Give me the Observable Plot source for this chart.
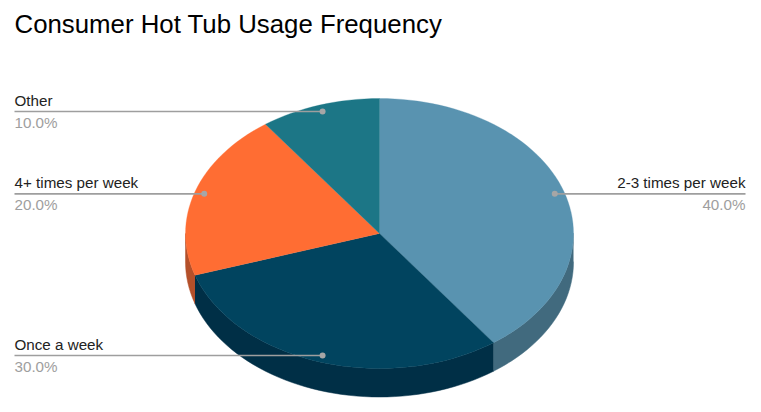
<!DOCTYPE html>
<html>
<head>
<meta charset="utf-8">
<script src="https://cdn.jsdelivr.net/npm/d3@7"></script>
<script src="https://cdn.jsdelivr.net/npm/@observablehq/plot@0.6"></script>
<style>
  html, body { margin: 0; padding: 0; background: #fff; }
  #chart { width: 761px; height: 412px; }
</style>
</head>
<body>
<div id="chart"></div>
<script>
// ---- Data ----
const chartTitle = "Consumer Hot Tub Usage Frequency";
const categories = ["2-3 times per week", "Once a week", "4+ times per week", "Other"];
const values = [40, 30, 20, 10];
const percentLabels = ["40.0%", "30.0%", "20.0%", "10.0%"];
const topColors = ["#5993B0", "#01445F", "#FF6D33", "#1C7686"];
const sideColors = ["#416A7E", "#002F46", "#B4502A", "#14545F"];
const labelSides = ["right", "left", "left", "left"];

// ---- Geometry (pixels) ----
const W = 761, H = 412;
const cx = 379, cy = 233, rx = 194, ry = 135, depth = 28.5;
const dotR = 0.95;

const total = d3.sum(values);
const pt = (a, r = 1, dy = 0) => ({x: cx + rx * r * Math.sin(a), y: cy - ry * r * Math.cos(a) + dy});

let acc = 0;
const slices = values.map((v, i) => {
  const a0 = acc / total * 2 * Math.PI;
  acc += v;
  const a1 = acc / total * 2 * Math.PI;
  return {i, a0, a1, mid: (a0 + a1) / 2};
});

const N = 160;
const arcPts = (a0, a1, dy) => {
  const n = Math.max(2, Math.ceil(N * (a1 - a0) / (2 * Math.PI)));
  return d3.range(n + 1).map(k => pt(a0 + (a1 - a0) * k / n, 1, dy));
};

// top faces
const topFaces = [];
slices.forEach(s => {
  const pts = [{x: cx, y: cy}, ...arcPts(s.a0, s.a1, 0), {x: cx, y: cy}];
  pts.forEach(p => topFaces.push({...p, key: "t" + s.i, color: topColors[s.i]}));
});

// visible side walls (front half, angles 90°..270°)
const sideFaces = [];
slices.forEach(s => {
  const b0 = Math.max(s.a0, Math.PI / 2), b1 = Math.min(s.a1, 3 * Math.PI / 2);
  if (b1 <= b0) return;
  const pts = [...arcPts(b0, b1, 0), ...arcPts(b0, b1, depth).reverse()];
  pts.forEach(p => sideFaces.push({...p, key: "s" + s.i, color: sideColors[s.i]}));
});

// labels and leader lines
const labelX = {left: 14, right: 745};
const labels = slices.map(s => {
  const d = pt(s.mid, dotR);
  const side = labelSides[s.i];
  return {
    name: categories[s.i], pct: percentLabels[s.i], side,
    dx: d.x, dy: d.y, lx: labelX[side]
  };
});
const leftLabels = labels.filter(d => d.side === "left");
const rightLabels = labels.filter(d => d.side === "right");

const plot = Plot.plot({
  width: W, height: H,
  margin: 0,
  x: {domain: [0, W], range: [0, W], axis: null},
  y: {domain: [0, H], range: [0, H], axis: null},
  color: {type: "identity"},
  style: {fontFamily: "'Liberation Sans', Arial, sans-serif", background: "#fff"},
  marks: [
    Plot.line(sideFaces, {x: "x", y: "y", z: "key", fill: "color", stroke: "color", strokeWidth: 0.5, curve: "linear"}),
    Plot.line(topFaces, {x: "x", y: "y", z: "key", fill: "color", stroke: "color", strokeWidth: 0.3, curve: "linear"}),
    Plot.link(labels, {x1: "lx", x2: "dx", y1: "dy", y2: "dy", stroke: "#9e9e9e", strokeWidth: 1.6}),
    Plot.dot(labels, {x: "dx", y: "dy", r: 3, fill: "#a6a6a6", stroke: "none"}),
    Plot.text(leftLabels, {x: "lx", y: d => d.dy - 5.5, text: "name", textAnchor: "start", lineAnchor: "bottom", fontSize: 15.2, fill: "#222"}),
    Plot.text(rightLabels, {x: "lx", y: d => d.dy - 5.5, text: "name", textAnchor: "end", lineAnchor: "bottom", fontSize: 15.2, fill: "#222"}),
    Plot.text(leftLabels, {x: "lx", y: d => d.dy + 16.5, text: "pct", textAnchor: "start", lineAnchor: "bottom", fontSize: 15.2, fill: "#9e9e9e"}),
    Plot.text(rightLabels, {x: "lx", y: d => d.dy + 16.5, text: "pct", textAnchor: "end", lineAnchor: "bottom", fontSize: 15.2, fill: "#9e9e9e"}),
    Plot.text([chartTitle], {x: 14, y: 32, text: d => d, textAnchor: "start", lineAnchor: "bottom", fontSize: 25.8, fill: "#000"})
  ]
});
document.getElementById("chart").appendChild(plot);
</script>
</body>
</html>
